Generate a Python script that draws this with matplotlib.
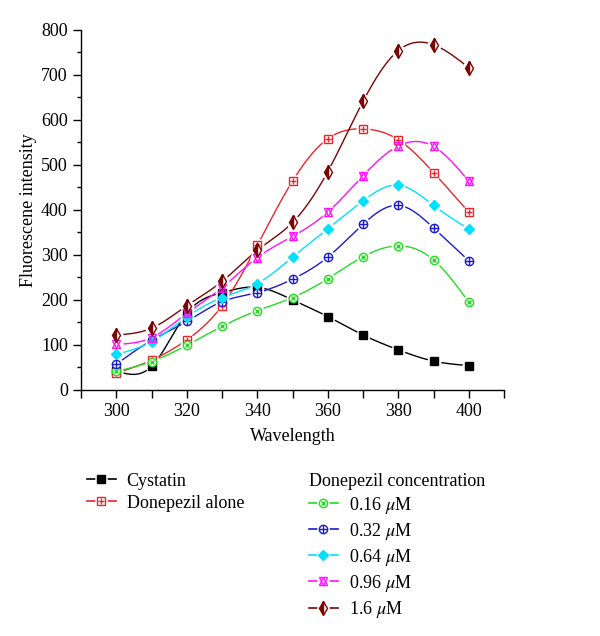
import numpy as np
import matplotlib
matplotlib.use("Agg")
import matplotlib.pyplot as plt
from matplotlib.lines import Line2D
from matplotlib.legend_handler import HandlerTuple
from matplotlib.ticker import MultipleLocator

plt.rcParams["font.family"] = ["Liberation Serif", "DejaVu Serif"]
plt.rcParams["mathtext.fontset"] = "stix"

wavelength = [300, 310, 320, 330, 340, 350, 360, 370, 380, 390, 400]
cystatin = [42, 52, 170, 216, 228, 200, 163, 122, 89, 64, 54]
donepezil_alone = [37, 66, 111, 187, 321, 464, 558, 580, 556, 483, 395]
c016 = [41, 63, 99, 141, 176, 205, 247, 296, 320, 289, 195]
c032 = [57, 110, 152, 196, 216, 246, 295, 368, 410, 360, 287]
c064 = [79, 107, 162, 205, 236, 295, 358, 420, 455, 410, 357]
c096 = [101, 116, 170, 227, 294, 341, 395, 476, 542, 541, 464]
c160 = [122, 137, 187, 241, 310, 372, 485, 641, 754, 767, 716]

labels = ["Cystatin", "Donepezil alone", r"0.16 $\mu$M", r"0.32 $\mu$M",
          r"0.64 $\mu$M", r"0.96 $\mu$M", r"1.6 $\mu$M"]


def natural_spline(x, y, n=300):
    """Natural cubic spline through (x, y), evaluated on a dense grid."""
    x = np.asarray(x, float)
    y = np.asarray(y, float)
    k = len(x)
    h = np.diff(x)
    A = np.zeros((k, k))
    b = np.zeros(k)
    A[0, 0] = A[-1, -1] = 1
    for i in range(1, k - 1):
        A[i, i - 1] = h[i - 1]
        A[i, i] = 2 * (h[i - 1] + h[i])
        A[i, i + 1] = h[i]
        b[i] = 6 * ((y[i + 1] - y[i]) / h[i] - (y[i] - y[i - 1]) / h[i - 1])
    m = np.linalg.solve(A, b)
    xs = np.linspace(x[0], x[-1], n)
    idx = np.clip(np.searchsorted(x, xs) - 1, 0, k - 2)
    x0, x1 = x[idx], x[idx + 1]
    hh = x1 - x0
    t0, t1 = x1 - xs, xs - x0
    ys = (m[idx] * t0 ** 3 + m[idx + 1] * t1 ** 3) / (6 * hh) \
        + (y[idx] / hh - m[idx] * hh / 6) * t0 \
        + (y[idx + 1] / hh - m[idx + 1] * hh / 6) * t1
    return xs, ys


# (values, color, list of marker layers)
series = [
    (cystatin, "black", [dict(marker="s", mfc="black", ms=5.5)]),
    (donepezil_alone, "#e8262b", [dict(marker="s", mfc="white", ms=5.5),
                                  dict(marker="+", mfc="none", ms=4.5)]),
    (c016, "#22dd22", [dict(marker="o", mfc="white", ms=6),
                       dict(marker="x", mfc="none", ms=3.5)]),
    (c032, "#1a1ad0", [dict(marker="o", mfc="white", ms=6),
                       dict(marker="+", mfc="none", ms=6)]),
    (c064, "#00e1ff", [dict(marker="D", mfc="#00e1ff", ms=5.5)]),
    (c096, "#ff10ff", [dict(marker="^", mfc="none", ms=6),
                       dict(marker="v", mfc="none", ms=6)]),
    (c160, "#7a0505", [dict(marker="d", fillstyle="left", mfc="#7a0505",
                            mfcalt="white", ms=7.5)]),
]

fig = plt.figure(figsize=(6, 6.36), dpi=100)
ax = fig.add_axes([0.135, 0.387, 0.705, 0.566])

handles = []
for vals, color, layers in series:
    xs, ys = natural_spline(wavelength, vals)
    ax.plot(xs, ys, color=color, lw=1.0, zorder=2)
    # white halo gives the gap between line and marker
    ax.plot(wavelength, vals, ls="none", marker="o", ms=9, mfc="white",
            mec="white", zorder=3)
    h_parts = [Line2D([], [], color=color, lw=1.2)]
    h_parts.append(Line2D([], [], ls="none", marker="o", ms=8, mfc="white", mec="white"))
    for lay in layers:
        kw = dict(ls="none", marker=lay["marker"], ms=lay["ms"],
                  mec=color, mew=1.0, color=color, mfc=lay["mfc"])
        if "fillstyle" in lay:
            kw["fillstyle"] = lay["fillstyle"]
            kw["markerfacecoloralt"] = lay["mfcalt"]
        ax.plot(wavelength, vals, zorder=4, **kw)
        h_parts.append(Line2D([], [], **kw))
    handles.append(tuple(h_parts))

ax.set_xlim(290, 410)
ax.set_ylim(0, 800)
ax.set_xticks(np.arange(290, 411, 10))
ax.set_xticklabels(["" if v % 20 else str(v) for v in range(290, 411, 10)])
ax.yaxis.set_major_locator(MultipleLocator(100))
ax.yaxis.set_minor_locator(MultipleLocator(50))
ax.tick_params(axis="both", which="major", direction="out", length=6, width=1.0,
               labelsize=13)
ax.tick_params(axis="y", which="minor", direction="out", length=3, width=1.0)
for side in ("top", "right"):
    ax.spines[side].set_visible(False)
for side in ("left", "bottom"):
    ax.spines[side].set_linewidth(1.0)

ax.set_xlabel("Wavelength", fontsize=13, labelpad=6)
ax.set_ylabel("Fluorescene intensity", fontsize=13, labelpad=3)

leg_kw = dict(frameon=False, fontsize=13, handlelength=1.6, handletextpad=0.6,
              labelspacing=0.28, borderaxespad=0, borderpad=0,
              handler_map={tuple: HandlerTuple(ndivide=1, pad=0)})
leg1 = fig.legend(handles[:2], labels[:2], loc="upper left",
                  bbox_to_anchor=(0.145, 0.257), **leg_kw)
leg2 = fig.legend(handles[2:], labels[2:], loc="upper left",
                  bbox_to_anchor=(0.515, 0.257), title="Donepezil concentration",
                  title_fontsize=13, alignment="left", **leg_kw)

fig.savefig("out.png", dpi=100, facecolor="white")
